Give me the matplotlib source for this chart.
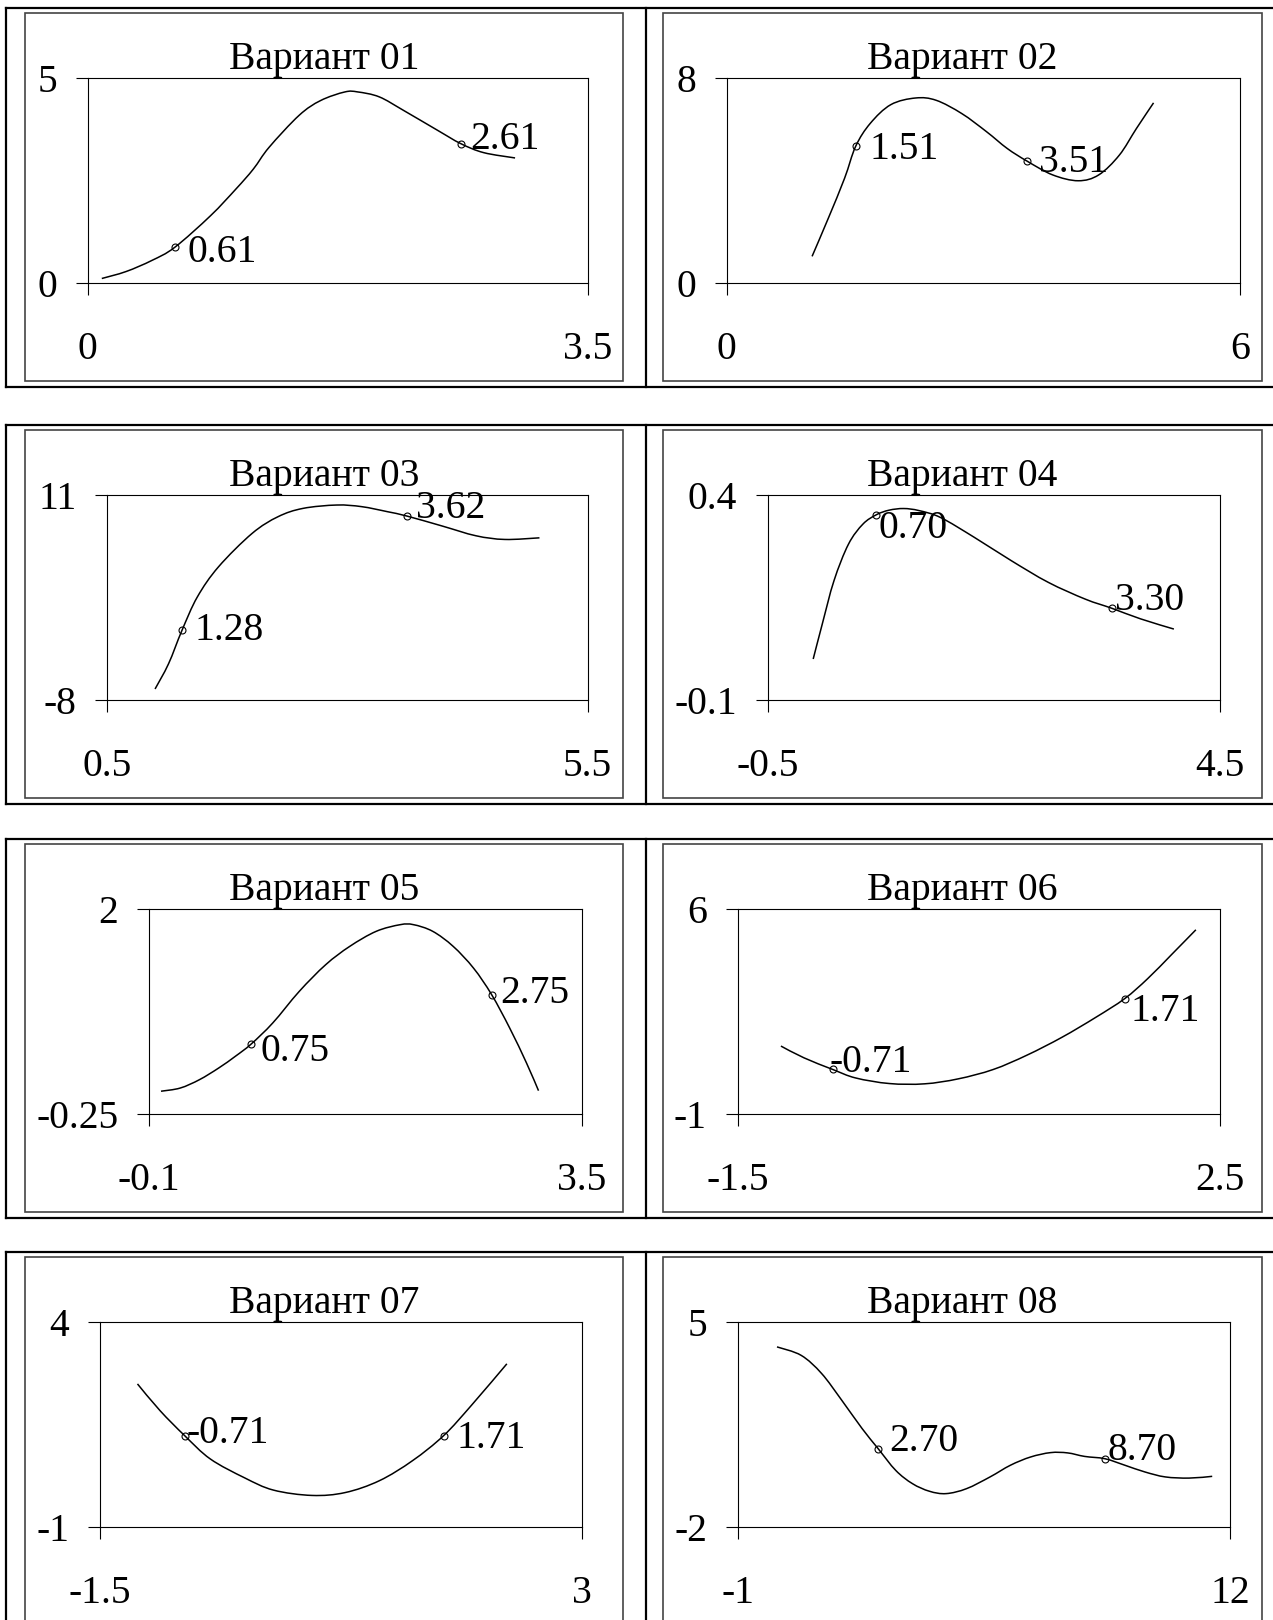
import matplotlib
matplotlib.use('Agg')
import matplotlib.pyplot as plt
import numpy as np
from matplotlib.lines import Line2D
from matplotlib.patches import Rectangle, PathPatch
from matplotlib.path import Path

plt.rcParams['font.family'] = ['Liberation Serif', 'DejaVu Serif']
plt.rcParams['axes.unicode_minus'] = False

# ---- data ----
titles = ['Вариант 01', 'Вариант 02', 'Вариант 03', 'Вариант 04',
          'Вариант 05', 'Вариант 06', 'Вариант 07', 'Вариант 08']

x_limits = [(0, 3.5), (0, 6), (0.5, 5.5), (-0.5, 4.5),
            (-0.1, 3.5), (-1.5, 2.5), (-1.5, 3), (-1, 12)]
y_limits = [(0, 5), (0, 8), (-8, 11), (-0.1, 0.4),
            (-0.25, 2), (-1, 6), (-1, 4), (-2, 5)]
x_ticklabels = [('0', '3.5'), ('0', '6'), ('0.5', '5.5'), ('-0.5', '4.5'),
                ('-0.1', '3.5'), ('-1.5', '2.5'), ('-1.5', '3'), ('-1', '12')]
y_ticklabels = [('0', '5'), ('0', '8'), ('-8', '11'), ('-0.1', '0.4'),
                ('-0.25', '2'), ('-1', '6'), ('-1', '4'), ('-2', '5')]

v01_x = [0.10, 0.27, 0.45, 0.61, 0.86, 1.04, 1.16, 1.27, 1.48, 1.63, 1.80, 1.89, 2.04, 2.21, 2.45, 2.61, 2.77, 2.99]
v01_y = [0.11, 0.28, 0.55, 0.87, 1.64, 2.30, 2.78, 3.31, 4.09, 4.45, 4.66, 4.66, 4.54, 4.21, 3.72, 3.40, 3.18, 3.05]

v02_x = [1.00, 1.19, 1.38, 1.51, 1.68, 1.92, 2.21, 2.45, 2.75, 3.04, 3.28, 3.51, 3.81, 4.11, 4.35, 4.59, 4.79, 4.99]
v02_y = [1.04, 2.53, 4.09, 5.34, 6.23, 6.96, 7.22, 7.13, 6.61, 5.90, 5.25, 4.76, 4.22, 3.99, 4.22, 4.99, 6.03, 7.03]

v03_x = [1.00, 1.14, 1.28, 1.44, 1.66, 2.01, 2.28, 2.54, 2.89, 3.15, 3.42, 3.62, 3.99, 4.34, 4.64, 5.00]
v03_y = [-6.98, -4.65, -1.55, 1.55, 4.34, 7.44, 8.99, 9.76, 10.07, 9.92, 9.45, 9.05, 8.12, 7.22, 6.88, 7.03]

v04_x = [0.00, 0.10, 0.23, 0.39, 0.55, 0.70, 0.84, 1.00, 1.17, 1.41, 1.78, 2.19, 2.60, 3.01, 3.30, 3.62, 3.99]
v04_y = [0.000, 0.085, 0.191, 0.280, 0.329, 0.352, 0.363, 0.367, 0.362, 0.345, 0.297, 0.240, 0.187, 0.146, 0.124, 0.098, 0.073]

v05_x = [0.00, 0.16, 0.32, 0.48, 0.62, 0.75, 0.93, 1.15, 1.37, 1.57, 1.79, 1.99, 2.10, 2.26, 2.43, 2.60, 2.75, 2.90, 3.04, 3.14]
v05_y = [0.00, 0.035, 0.127, 0.255, 0.385, 0.518, 0.75, 1.096, 1.389, 1.59, 1.755, 1.828, 1.828, 1.755, 1.59, 1.35, 1.06, 0.694, 0.31, 0.006]

v06_x = [-1.14, -0.95, -0.71, -0.52, -0.24, 0.05, 0.33, 0.62, 0.90, 1.19, 1.47, 1.71, 1.90, 2.10, 2.30]
v06_y = [1.32, 0.92, 0.52, 0.23, 0.04, 0.03, 0.20, 0.52, 1.01, 1.62, 2.30, 2.94, 3.62, 4.45, 5.29]

v07_x = [-1.15, -0.94, -0.71, -0.47, -0.15, 0.12, 0.48, 0.79, 1.11, 1.42, 1.71, 1.97, 2.30]
v07_y = [2.49, 1.84, 1.23, 0.66, 0.20, -0.10, -0.23, -0.16, 0.13, 0.62, 1.23, 1.97, 2.98]

v08_x = [0.03, 0.67, 1.21, 1.74, 2.28, 2.70, 3.17, 3.61, 4.06, 4.50, 5.04, 5.66, 6.20, 6.73, 7.26, 7.71, 8.16, 8.70, 9.22, 9.75, 10.29, 10.92, 11.53]
v08_y = [4.15, 3.86, 3.24, 2.33, 1.36, 0.68, -0.07, -0.52, -0.78, -0.86, -0.69, -0.29, 0.11, 0.39, 0.54, 0.53, 0.41, 0.33, 0.11, -0.12, -0.29, -0.33, -0.27]

curves_x = [v01_x, v02_x, v03_x, v04_x, v05_x, v06_x, v07_x, v08_x]
curves_y = [v01_y, v02_y, v03_y, v04_y, v05_y, v06_y, v07_y, v08_y]

# marked points (x value is also the label)
mark_x = [(0.61, 2.61), (1.51, 3.51), (1.28, 3.62), (0.70, 3.30),
          (0.75, 2.75), (-0.71, 1.71), (-0.71, 1.71), (2.70, 8.70)]
mark_y = [(0.87, 3.40), (5.34, 4.76), (-1.55, 9.05), (0.352, 0.124),
          (0.518, 1.06), (0.52, 2.94), (1.23, 1.23), (0.68, 0.33)]

# ---- layout (pixels in the 1273x1620 page) ----
W, H = 1273, 1620
row_tops = [8, 425, 839, 1252]
row_h = 379
panel_boxes = [(25, 623), (663, 1262)]
plot_lr = [(87.5, 588), (726.5, 1240), (107, 587.5), (768, 1220),
           (149, 581.8), (737.5, 1220), (100, 581.8), (738, 1230)]
label_offsets = [((12, 5), (9, -4)), ((13, 3), (12, 1)), ((12, 0), (9, -7)),
                 ((2, 13), (3, -7)), ((9, 7), (8, -1)), ((-3, -7), (6, 12)),
                 ((2, -2), (12, 3)), ((11, -7), (2, -8))]
FS = 28.5

fig = plt.figure(figsize=(W / 100, H / 100), dpi=100)


def fx(x):
    return x / W


def fy(y):
    return 1 - y / H


def smooth_path(xs, ys):
    # smoothed line through the points (like a spreadsheet "smoothed line")
    p = np.column_stack([xs, ys]).astype(float)
    verts = [p[0]]
    codes = [Path.MOVETO]
    n = len(p)
    for i in range(n - 1):
        p0 = p[i - 1] if i > 0 else p[i]
        p1, p2 = p[i], p[i + 1]
        p3 = p[i + 2] if i + 2 < n else p[i + 1]
        verts += [p1 + (p2 - p0) / 6, p2 - (p3 - p1) / 6, p2]
        codes += [Path.CURVE4] * 3
    return Path(verts, codes)


# table borders and chart frames
for top in row_tops:
    bot = top + row_h
    for yy in (top, bot):
        fig.add_artist(Line2D([fx(6), 1], [fy(yy), fy(yy)], color='black', lw=1.6))
    for xx in (6, 646):
        fig.add_artist(Line2D([fx(xx), fx(xx)], [fy(top), fy(bot)], color='black', lw=1.6))
    for l, r in panel_boxes:
        fig.add_artist(Rectangle((fx(l), fy(bot - 6)), (r - l) / W, (row_h - 11) / H,
                                 fill=False, edgecolor='#444444', lw=1.2))

for i in range(8):
    row, col = divmod(i, 2)
    left, right = plot_lr[i]
    top = row_tops[row] + 70
    ax = fig.add_axes([fx(left), fy(top + 205), (right - left) / W, 205 / H])

    ax.add_patch(PathPatch(smooth_path(curves_x[i], curves_y[i]), fill=False,
                           edgecolor='black', lw=1.1))
    ax.plot(mark_x[i], mark_y[i], 'o', ms=5, mfc='none', mec='black', mew=0.8)
    for (mx, my), (dx, dy) in zip(zip(mark_x[i], mark_y[i]), label_offsets[i]):
        ax.annotate(f'{mx:.2f}', (mx, my), xytext=(dx * 1.033, -dy * 1.033),
                    textcoords='offset pixels', ha='left', va='center', fontsize=FS)

    ax.set_xlim(*x_limits[i])
    ax.set_ylim(*y_limits[i])
    ax.set_xticks(x_limits[i])
    ax.set_xticklabels(x_ticklabels[i])
    ax.set_yticks(y_limits[i])
    ax.set_yticklabels(y_ticklabels[i])
    ax.tick_params(axis='both', direction='out', length=8.6, width=0.8, labelsize=FS)
    ax.tick_params(axis='x', pad=26)
    ax.tick_params(axis='y', pad=13.5)
    for s in ax.spines.values():
        s.set_linewidth(0.8)

    pl, pr = panel_boxes[col]
    ax.set_title(titles[i], fontsize=FS, pad=5.5, x=((pl + pr) / 2 - left) / (right - left))

fig.savefig('out.png', dpi=100)
